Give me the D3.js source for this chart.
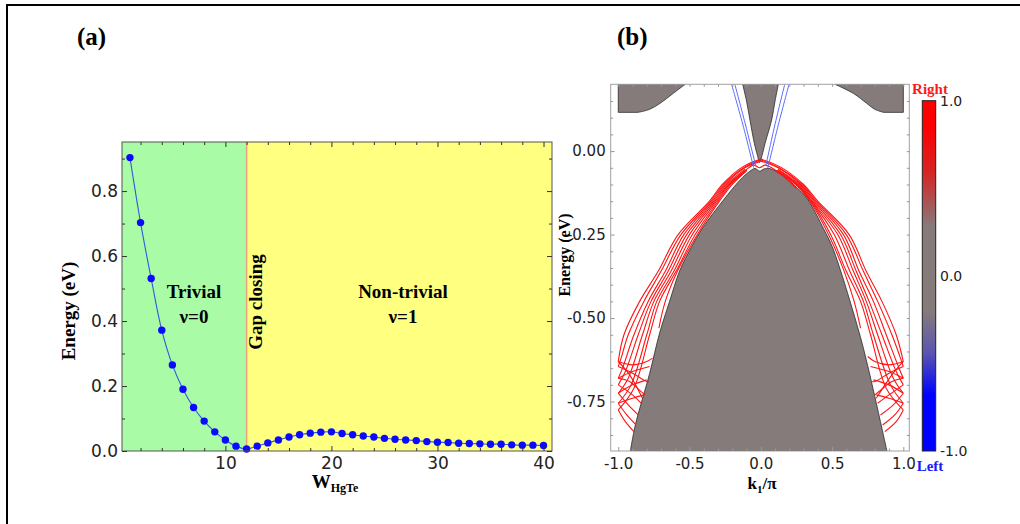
<!DOCTYPE html>
<html><head><meta charset="utf-8">
<script src="https://cdn.jsdelivr.net/npm/d3@7"></script>
<style>body{margin:0;background:#fff}svg{display:block}</style>
</head><body>
<svg id="c" width="1020" height="524"></svg>
<script>
// ---------- Panel (a) data ----------
const widths = [1,2,3,4,5,6,7,8,9,10,11,12,13,14,15,16,17,18,19,20,21,22,23,24,25,26,27,28,29,30,31,32,33,34,35,36,37,38,39,40];
const gapEnergy = [0.903,0.703,0.531,0.372,0.265,0.190,0.134,0.092,0.059,0.034,0.015,0.006,0.015,0.025,0.034,0.043,0.050,0.055,0.058,0.059,0.054,0.050,0.046,0.043,0.039,0.036,0.034,0.032,0.029,0.027,0.026,0.024,0.023,0.022,0.021,0.021,0.019,0.018,0.018,0.017];
const gapClosingW = 12;
const aXTicks = [10,20,30,40];
const aXMinor = [2,4,6,8,12,14,16,18,22,24,26,28,32,34,36,38];
const aYTicks = [0,0.2,0.4,0.6,0.8];
const aYMinor = [0.1,0.3,0.5,0.7,0.9];

// ---------- Panel (b) data: [k/pi, E] ----------
const valenceEdge = [[-0.915,-0.898],[-0.88,-0.82],[-0.78,-0.666],[-0.71,-0.545],[-0.64,-0.45],[-0.567,-0.356],[-0.49,-0.29],[-0.403,-0.227],[-0.263,-0.147],[-0.146,-0.087],[-0.076,-0.060],[-0.04,-0.052],[-0.008,-0.060],[0.025,-0.053],[0.06,-0.052],[0.15,-0.072],[0.26,-0.112],[0.33,-0.145],[0.44,-0.232],[0.50,-0.285],[0.55,-0.345],[0.63,-0.455],[0.72,-0.590],[0.80,-0.735],[0.885,-0.898]];
const condLeft = [[-0.53,0.2],[-0.614,0.173],[-0.707,0.143],[-0.78,0.125],[-0.86,0.116]];
const condLeftEdge = [[-1.0,0.116],[-1.0,0.2]];
const condCenter = [[-0.127,0.2],[-0.10,0.15],[-0.076,0.093],[-0.045,0.023],[-0.024,-0.012],[-0.008,-0.034],[0.008,-0.014],[0.03,0.023],[0.076,0.093],[0.10,0.15],[0.123,0.2]];
const condRight = [[0.52,0.2],[0.649,0.173],[0.743,0.143],[0.80,0.125],[0.86,0.116]];
const condRightEdge = [[1.0,0.116],[1.0,0.2]];

const blueStates = [
  [[-0.05,-0.05],[-0.12,0.07],[-0.205,0.2]],
  [[-0.035,-0.045],[-0.105,0.075],[-0.182,0.2]],
  [[0.035,-0.045],[0.097,0.075],[0.168,0.2]],
  [[0.05,-0.05],[0.118,0.07],[0.198,0.2]]
];

const redStates = [
  // inner dome hugging valence top
  [[-0.25,-0.112],[-0.12,-0.062],[-0.05,-0.042],[-0.008,-0.05],[0.03,-0.042],[0.12,-0.062],[0.25,-0.112]],
  // left descending branches
  [[0,-0.024],[-0.13,-0.048],[-0.27,-0.1],[-0.36,-0.15],[-0.58,-0.25],[-0.72,-0.36],[-0.85,-0.45],[-0.96,-0.55],[-1,-0.63]],
  [[0,-0.026],[-0.12,-0.05],[-0.26,-0.1],[-0.35,-0.15],[-0.56,-0.25],[-0.70,-0.36],[-0.82,-0.45],[-0.93,-0.55],[-0.98,-0.62],[-1,-0.645]],
  [[0,-0.03],[-0.12,-0.052],[-0.25,-0.1],[-0.34,-0.15],[-0.54,-0.25],[-0.67,-0.36],[-0.79,-0.45],[-0.89,-0.55],[-0.97,-0.65],[-1,-0.68]],
  [[-0.11,-0.054],[-0.24,-0.1],[-0.33,-0.15],[-0.52,-0.25],[-0.65,-0.36],[-0.77,-0.45],[-0.86,-0.55],[-0.95,-0.66],[-1,-0.70]],
  [[-0.1,-0.056],[-0.23,-0.1],[-0.32,-0.15],[-0.50,-0.25],[-0.63,-0.36],[-0.75,-0.45],[-0.83,-0.55],[-0.93,-0.68],[-1,-0.725]],
  [[-0.1,-0.057],[-0.22,-0.1],[-0.31,-0.15],[-0.48,-0.25],[-0.61,-0.36],[-0.73,-0.45],[-0.80,-0.55],[-0.91,-0.7],[-1,-0.755]],
  [[-0.1,-0.058],[-0.21,-0.1],[-0.30,-0.15],[-0.46,-0.25],[-0.595,-0.36],[-0.71,-0.45],[-0.78,-0.55],[-0.89,-0.71],[-1,-0.775]],
  [[-0.1,-0.059],[-0.2,-0.1],[-0.29,-0.15],[-0.445,-0.25],[-0.585,-0.36],[-0.67,-0.45],[-0.715,-0.53]],
  // left return and crossing branches
  [[-1,-0.63],[-0.9,-0.64],[-0.8,-0.63],[-0.76,-0.62]],
  [[-1,-0.645],[-0.9,-0.665],[-0.8,-0.69],[-0.785,-0.69]],
  [[-1,-0.68],[-0.92,-0.69],[-0.84,-0.72],[-0.81,-0.73]],
  [[-1,-0.70],[-0.9,-0.73],[-0.84,-0.755]],
  [[-1,-0.725],[-0.93,-0.76],[-0.86,-0.79]],
  [[-1,-0.755],[-0.94,-0.79],[-0.875,-0.82]],
  [[-1,-0.775],[-0.95,-0.81],[-0.89,-0.84]],
  [[-1,-0.63],[-0.92,-0.67],[-0.83,-0.74]],
  [[-1,-0.68],[-0.9,-0.66],[-0.78,-0.645]],
  [[-1,-0.725],[-0.9,-0.70],[-0.8,-0.685]],
  [[-1,-0.755],[-0.9,-0.74],[-0.82,-0.73]],
  // right descending branches
  [[0,-0.024],[0.14,-0.048],[0.30,-0.1],[0.40,-0.15],[0.62,-0.25],[0.74,-0.36],[0.85,-0.45],[0.95,-0.55],[1,-0.63]],
  [[0,-0.026],[0.13,-0.05],[0.29,-0.1],[0.39,-0.15],[0.60,-0.25],[0.72,-0.36],[0.82,-0.45],[0.92,-0.55],[0.98,-0.62],[1,-0.645]],
  [[0,-0.03],[0.13,-0.052],[0.28,-0.1],[0.38,-0.15],[0.58,-0.25],[0.69,-0.36],[0.79,-0.45],[0.88,-0.55],[0.97,-0.65],[1,-0.68]],
  [[0.12,-0.054],[0.27,-0.1],[0.37,-0.15],[0.56,-0.25],[0.67,-0.36],[0.76,-0.45],[0.85,-0.55],[0.95,-0.66],[1,-0.70]],
  [[0.12,-0.056],[0.26,-0.1],[0.36,-0.15],[0.54,-0.25],[0.65,-0.36],[0.74,-0.45],[0.82,-0.55],[0.93,-0.68],[1,-0.725]],
  [[0.11,-0.057],[0.255,-0.1],[0.355,-0.15],[0.515,-0.25],[0.625,-0.36],[0.72,-0.45],[0.79,-0.55],[0.91,-0.7],[1,-0.755]],
  [[0.11,-0.058],[0.25,-0.1],[0.35,-0.15],[0.49,-0.25],[0.60,-0.36],[0.70,-0.45],[0.77,-0.55],[0.88,-0.71],[1,-0.775]],
  [[0.1,-0.059],[0.245,-0.1],[0.345,-0.15],[0.475,-0.25],[0.585,-0.36],[0.655,-0.45],[0.70,-0.53]],
  // right return and crossing branches
  [[1,-0.63],[0.9,-0.64],[0.8,-0.63],[0.75,-0.615]],
  [[1,-0.645],[0.9,-0.665],[0.8,-0.69],[0.775,-0.69]],
  [[1,-0.68],[0.92,-0.69],[0.83,-0.72],[0.8,-0.73]],
  [[1,-0.70],[0.9,-0.73],[0.82,-0.755]],
  [[1,-0.725],[0.93,-0.76],[0.84,-0.79]],
  [[1,-0.755],[0.94,-0.79],[0.855,-0.82]],
  [[1,-0.775],[0.95,-0.81],[0.87,-0.84]],
  [[1,-0.63],[0.92,-0.67],[0.81,-0.74]],
  [[1,-0.68],[0.9,-0.66],[0.77,-0.645]],
  [[1,-0.725],[0.9,-0.70],[0.79,-0.685]],
  [[1,-0.755],[0.9,-0.74],[0.81,-0.73]]
];

const bXTicks = [-1,-0.5,0,0.5,1];
const bXMinor = [-0.9,-0.8,-0.7,-0.6,-0.4,-0.3,-0.2,-0.1,0.1,0.2,0.3,0.4,0.6,0.7,0.8,0.9];
const bYTicks = [0,-0.25,-0.5,-0.75];
const bYMinor = [0.15,0.1,0.05,-0.05,-0.1,-0.15,-0.2,-0.3,-0.35,-0.4,-0.45,-0.55,-0.6,-0.65,-0.7,-0.8,-0.85];
const cbTicks = [1.0,0.0,-1.0];
const cbStops = [[0,"#ff0000"],[0.07,"#ff0000"],[0.2,"#d82222"],[0.36,"#867b7b"],[0.6,"#867b7b"],[0.72,"#5a55b0"],[0.84,"#0000ff"],[1,"#0000ff"]];

// ---------- drawing ----------
const svg = d3.select("#c");
svg.append("rect").attr("width",1020).attr("height",524).attr("fill","#fff");
svg.append("path").attr("d","M7,524V5H1020").attr("fill","none").attr("stroke","#000").attr("stroke-width",2);

const serif = "'Liberation Serif','Times New Roman',serif";
const sans = "'DejaVu Sans',sans-serif";

function styleAxis(g, font, size, color){
  g.select(".domain").remove();
  g.selectAll("line").attr("stroke",color);
  g.selectAll("text").attr("font-family",font).attr("font-size",size).attr("fill","#222");
}

// ===== Panel (a) =====
const xa = d3.scaleLinear().domain([0.25,40.8]).range([122,552]);
const ya = d3.scaleLinear().domain([0,0.951]).range([451,142]);
const ga = svg.append("g");
ga.append("rect").attr("x",xa(0.25)).attr("y",ya(0.951)).attr("width",xa(gapClosingW)-xa(0.25)).attr("height",ya(0)-ya(0.951)).attr("fill","#a9fba6");
ga.append("rect").attr("x",xa(gapClosingW)).attr("y",ya(0.951)).attr("width",xa(40.8)-xa(gapClosingW)).attr("height",ya(0)-ya(0.951)).attr("fill","#ffff80");
ga.append("line").attr("x1",xa(gapClosingW)).attr("x2",xa(gapClosingW)).attr("y1",ya(0)).attr("y2",ya(0.951)).attr("stroke","#f0a07a").attr("stroke-width",1.5);

const pts = widths.map((w,i)=>[w,gapEnergy[i]]);
ga.append("path").attr("d",d3.line().x(d=>xa(d[0])).y(d=>ya(d[1])).curve(d3.curveCatmullRom)(pts))
  .attr("fill","none").attr("stroke","#3358e0").attr("stroke-width",1.1);
ga.selectAll("circle").data(pts).join("circle").attr("cx",d=>xa(d[0])).attr("cy",d=>ya(d[1])).attr("r",3.7).attr("fill","#0a0aff");

ga.append("rect").attr("x",122).attr("y",142).attr("width",430).attr("height",309).attr("fill","none").attr("stroke","#555").attr("stroke-width",1);

ga.append("g").attr("transform","translate(0,451)").call(d3.axisBottom(xa).tickValues(aXTicks).tickSize(-5).tickPadding(6).tickFormat(d3.format("d"))).call(styleAxis,sans,17,"#333");
ga.append("g").attr("transform","translate(0,451)").call(d3.axisBottom(xa).tickValues(aXMinor).tickSize(-3).tickFormat("")).call(styleAxis,sans,17,"#333");
ga.append("g").attr("transform","translate(0,142)").call(d3.axisTop(xa).tickValues(aXTicks).tickSize(-5).tickFormat("")).call(styleAxis,sans,17,"#333");
ga.append("g").attr("transform","translate(0,142)").call(d3.axisTop(xa).tickValues(aXMinor).tickSize(-3).tickFormat("")).call(styleAxis,sans,17,"#333");
ga.append("g").attr("transform","translate(122,0)").call(d3.axisLeft(ya).tickValues(aYTicks).tickSize(-5).tickPadding(4).tickFormat(d=>d.toFixed(1))).call(styleAxis,sans,17,"#333");
ga.append("g").attr("transform","translate(122,0)").call(d3.axisLeft(ya).tickValues(aYMinor).tickSize(-3).tickFormat("")).call(styleAxis,sans,17,"#333");
ga.append("g").attr("transform","translate(552,0)").call(d3.axisRight(ya).tickValues(aYTicks).tickSize(-5).tickFormat("")).call(styleAxis,sans,17,"#333");
ga.append("g").attr("transform","translate(552,0)").call(d3.axisRight(ya).tickValues(aYMinor).tickSize(-3).tickFormat("")).call(styleAxis,sans,17,"#333");

function txt(g,x,y,s,size,opts={}){
  const t = g.append("text").attr("x",x).attr("y",y).attr("font-family",opts.font||serif).attr("font-weight",opts.weight||"bold")
    .attr("font-size",size).attr("fill",opts.fill||"#000").attr("text-anchor",opts.anchor||"middle");
  if(opts.rot) t.attr("transform",`rotate(${opts.rot},${x},${y})`);
  t.text(s); return t;
}
txt(svg,77,45,"(a)",25,{anchor:"start"});
txt(svg,617,45,"(b)",25,{anchor:"start"});
txt(ga,75,311,"Energy (eV)",19,{rot:-90});
txt(ga,262,302,"Gap closing",19,{rot:-90});
txt(ga,194,298,"Trivial",19);
txt(ga,194,323,"ν=0",19);
txt(ga,403,298,"Non-trivial",19);
txt(ga,403,323,"ν=1",19);
const wl = ga.append("text").attr("x",335).attr("y",488).attr("text-anchor","middle").attr("font-family",serif).attr("font-weight","bold").attr("font-size",19);
wl.append("tspan").text("W");
wl.append("tspan").attr("font-size",12).attr("dy",4).text("HgTe");

// ===== Panel (b) =====
const xb = d3.scaleLinear().domain([-1.053,1.042]).range([610.7,909.3]);
const yb = d3.scaleLinear().domain([-0.898,0.2]).range([451,84.3]);
const gb = svg.append("g");
const defs = svg.append("defs");
defs.append("clipPath").attr("id","clipb").append("rect").attr("x",610.7).attr("y",84.3).attr("width",298.6).attr("height",366.7);
const plot = gb.append("g").attr("clip-path","url(#clipb)");
const curve = d3.line().x(d=>xb(d[0])).y(d=>yb(d[1])).curve(d3.curveCatmullRom.alpha(0.5));
const lin = pts2 => pts2.map(p=>`L${xb(p[0])},${yb(p[1])}`).join("");
const bandFill = "#867b7b";
plot.append("path").attr("d",curve(valenceEdge)+"Z").attr("fill",bandFill).attr("stroke","#2a2a2a").attr("stroke-width",0.8);
plot.append("path").attr("d",curve(condLeft)+lin(condLeftEdge)+"Z").attr("fill",bandFill).attr("stroke","#2a2a2a").attr("stroke-width",0.8);
plot.append("path").attr("d",curve(condCenter)+"Z").attr("fill",bandFill).attr("stroke","#2a2a2a").attr("stroke-width",0.8);
plot.append("path").attr("d",curve(condRight)+lin(condRightEdge)+"Z").attr("fill",bandFill).attr("stroke","#2a2a2a").attr("stroke-width",0.8);
plot.selectAll("path.red").data(redStates).join("path").attr("class","red").attr("d",d=>curve(d)).attr("fill","none").attr("stroke","#ff1414").attr("stroke-width",1.1);
plot.selectAll("path.blue").data(blueStates).join("path").attr("class","blue").attr("d",d=>curve(d)).attr("fill","none").attr("stroke","#5a6cff").attr("stroke-width",1);

gb.append("rect").attr("x",610.7).attr("y",84.3).attr("width",298.6).attr("height",366.7).attr("fill","none").attr("stroke","#a0a0a0").attr("stroke-width",1);
gb.append("g").attr("transform","translate(0,451)").call(d3.axisBottom(xb).tickValues(bXTicks).tickSize(-4).tickPadding(7).tickFormat(d=>d.toFixed(1))).call(styleAxis,sans,15,"#999");
gb.append("g").attr("transform","translate(0,451)").call(d3.axisBottom(xb).tickValues(bXMinor).tickSize(-2.5).tickFormat("")).call(styleAxis,sans,15,"#999");
gb.append("g").attr("transform","translate(0,84.3)").call(d3.axisTop(xb).tickValues(bXTicks.concat(bXMinor)).tickSize(-2.5).tickFormat("")).call(styleAxis,sans,15,"#999");
gb.append("g").attr("transform","translate(610.7,0)").call(d3.axisLeft(yb).tickValues(bYTicks).tickSize(-4).tickPadding(5).tickFormat(d=>d.toFixed(2))).call(styleAxis,sans,15,"#999");
gb.append("g").attr("transform","translate(610.7,0)").call(d3.axisLeft(yb).tickValues(bYMinor).tickSize(-2.5).tickFormat("")).call(styleAxis,sans,15,"#999");
gb.append("g").attr("transform","translate(909.3,0)").call(d3.axisRight(yb).tickValues(bYTicks.concat(bYMinor)).tickSize(-2.5).tickFormat("")).call(styleAxis,sans,15,"#999");
txt(gb,570,255,"Energy (eV)",16,{rot:-90});
const kl = gb.append("text").attr("x",762).attr("y",489).attr("text-anchor","middle").attr("font-family",serif).attr("font-weight","bold").attr("font-size",17);
kl.append("tspan").text("k");
kl.append("tspan").attr("font-size",11).attr("dy",4).text("1");
kl.append("tspan").attr("dy",-4).text("/π");

// colorbar
const grad = defs.append("linearGradient").attr("id","cbg").attr("x1",0).attr("x2",0).attr("y1",0).attr("y2",1);
grad.selectAll("stop").data(cbStops).join("stop").attr("offset",d=>d[0]).attr("stop-color",d=>d[1]);
const yc = d3.scaleLinear().domain([-1,1]).range([451,100.7]);
gb.append("rect").attr("x",922.3).attr("y",yc(1)).attr("width",13.4).attr("height",yc(-1)-yc(1)).attr("fill","url(#cbg)").attr("stroke","#222").attr("stroke-width",1);
gb.append("g").attr("transform","translate(936,0)").call(d3.axisRight(yc).tickValues(cbTicks).tickSize(0).tickPadding(4).tickFormat(d=>d.toFixed(1))).call(styleAxis,sans,14,"#222");
txt(gb,930,94,"Right",15,{fill:"#ff1a1a"});
txt(gb,930,471,"Left",15,{fill:"#1a1aff"});
</script>
</body></html>
